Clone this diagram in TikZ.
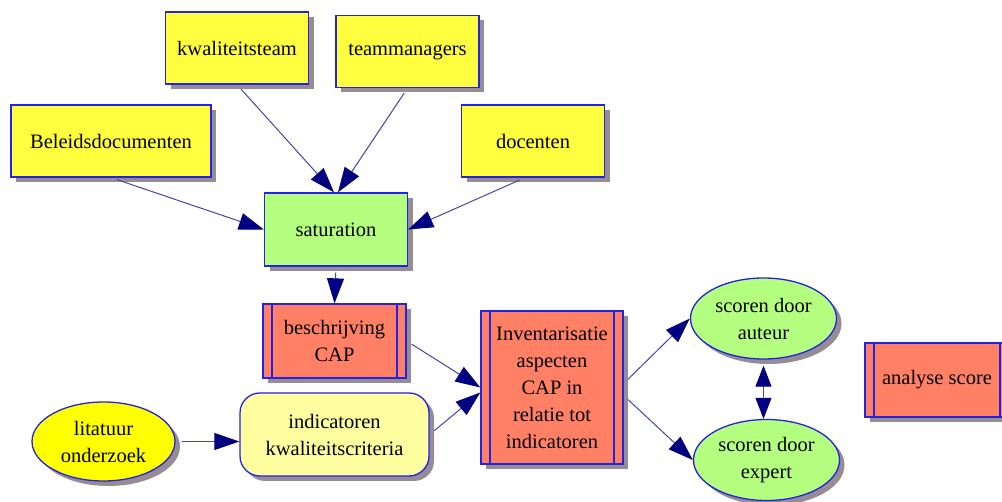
\documentclass[tikz,border=0pt]{standalone}
\usepackage{fontspec}
\setmainfont{Liberation Serif}
\usetikzlibrary{arrows.meta, shapes.geometric, shadows}
\definecolor{boxblue}{RGB}{35,35,225}
\definecolor{boxyellow}{RGB}{255,255,64}
\definecolor{boxgreen}{RGB}{180,255,128}
\definecolor{boxsalmon}{RGB}{255,128,100}
\definecolor{paleyellow}{RGB}{255,255,160}
\definecolor{ovalyellow}{RGB}{255,255,0}
\definecolor{shadowgray}{RGB}{150,140,150}
\definecolor{linkblue}{RGB}{70,70,160}
\definecolor{tipnavy}{RGB}{0,0,128}

\begin{document}
\begin{tikzpicture}[x=1pt, y=-1pt, font=\fontsize{20.5}{27}\selectfont,
  shade/.style={drop shadow={shadow xshift=5pt, shadow yshift=-5pt, fill=shadowgray, opacity=1}},
  box/.style={rectangle, draw=boxblue, line width=1.3pt, align=center, inner sep=2pt,
    minimum width=143pt, minimum height=73pt, shade},
  srcbox/.style={box, fill=boxyellow},
  procbox/.style={box, fill=boxsalmon, path picture={
    \draw [boxblue, line width=1.3pt]
      ([xshift=9pt]path picture bounding box.north west) -- ([xshift=9pt]path picture bounding box.south west)
      ([xshift=-9pt]path picture bounding box.north east) -- ([xshift=-9pt]path picture bounding box.south east);}},
  oval/.style={ellipse, draw=boxblue, line width=1.3pt, align=center, inner sep=0pt,
    minimum width=146pt, minimum height=81pt, shade},
  link/.style={draw=linkblue, line width=1pt, shorten <=6pt, -{Triangle[length=25pt, width=17pt, color=tipnavy]}},
  dlink/.style={link, {Triangle[length=21pt, width=16pt, color=tipnavy]}-{Triangle[length=21pt, width=16pt, color=tipnavy]}}]
\useasboundingbox (0,0) rectangle (1002,502);
\node (kwal) at (237,48) [srcbox, minimum height=72pt] {kwaliteitsteam};
\node (team) at (407.5,51.5) [srcbox, minimum height=72pt] {teammanagers};
\node (beleid) at (111,141) [srcbox, minimum width=200pt, minimum height=72pt] {Beleidsdocumenten};
\node (doc) at (533,141) [srcbox, minimum height=72pt] {docenten};
\node (sat) at (336,229.5) [box, fill=boxgreen] {saturation};
\node (besch) at (334.5,341) [procbox, minimum height=74pt] {beschrijving\\CAP};
\node (inv) at (552,387.5) [procbox, minimum width=142pt, minimum height=153pt] {Inventarisatie\\aspecten\\CAP in\\relatie tot\\indicatoren};
\node (ind) at (334.5,434.5) [box, fill=paleyellow, rounded corners=20pt, minimum width=189pt, minimum height=83pt] {indicatoren\\kwaliteitscriteria};
\node (lit) at (103.5,441.5) [oval, fill=ovalyellow, minimum width=143pt, minimum height=79pt] {litatuur\\onderzoek};
\node (aut) at (763.5,318.5) [oval, fill=boxgreen] {scoren door\\auteur};
\node (exp) at (766.5,460) [oval, fill=boxgreen] {scoren door\\expert};
\node (anal) at (937,380) [procbox, minimum width=144pt, minimum height=74pt] {analyse score};
\draw [link] (kwal.south) -- ([xshift=-2pt]sat.north);
\draw [link] (team.south) -- ([xshift=2pt]sat.north);
\draw [link] (beleid.south) -- (sat.west);
\draw [link] ([xshift=-8pt]doc.south) -- (sat.east);
\draw [link] (sat.south) -- (besch.north);
\draw [link] (besch.east) -- (inv.west);
\draw [link] (ind.east) -- ([yshift=-5pt]inv.west);
\draw [link] (lit.east) -- (ind.west |- lit.east);
\draw [link] ([yshift=4pt]inv.east) -- (aut.west);
\draw [link] ([yshift=-8pt]inv.east) -- (exp.west);
\draw [dlink] (aut.south) -- (aut.south |- exp.north);
\end{tikzpicture}
\end{document}
